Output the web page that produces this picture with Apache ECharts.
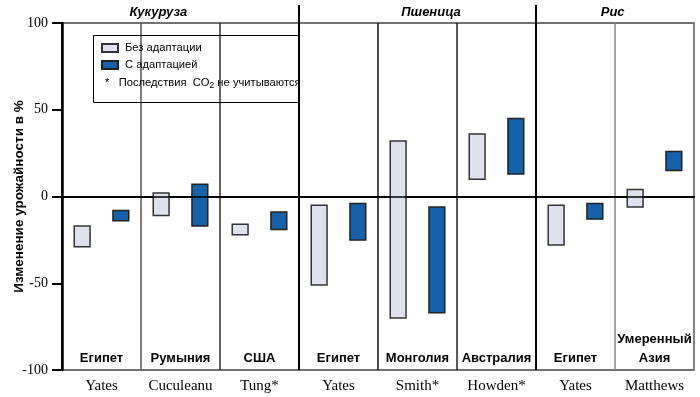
<!DOCTYPE html>
<html>
<head>
<meta charset="utf-8">
<script src="https://cdn.jsdelivr.net/npm/echarts@6/dist/echarts.min.js"></script>
<style>
  html, body { margin: 0; padding: 0; background: #fff; }
  #chart { width: 700px; height: 397px; }
</style>
</head>
<body>
<div id="chart"></div>
<script>
// authors under each column, country inside each column
const authors = ['Yates', 'Cuculeanu', 'Tung*', 'Yates', 'Smith*', 'Howden*', 'Yates', 'Matthews']
const countries = ['Египет', 'Румыния', 'США', 'Египет', 'Монголия', 'Австралия', 'Египет', 'Умеренный\nАзия']

// crop groups: name and how many columns each covers
const crops = ['Кукуруза', 'Пшеница', 'Рис']
const cropSpans = [3, 3, 2]

// range of yield change, %
const noAdaptLow = [-29, -11, -22, -51, -70, 10, -28, -6]
const noAdaptHigh = [-17, 2, -16, -5, 32, 36, -5, 4]
const adaptLow = [-14, -17, -19, -25, -67, 13, -13, 15]
const adaptHigh = [-8, 7, -9, -4, -6, 45, -4, 26]

const yTicks = [-100, -50, 0, 50, 100]

const SANS = '"Liberation Sans", Arial, sans-serif'
const SERIF = '"Liberation Serif", "DejaVu Serif", serif'

const chart = echarts.init(document.getElementById('chart'))

const toRows = (lo, hi) => lo.map((v, i) => [i, v, hi[i]])

const rangeBar = offset => (params, api) => {
  const x = api.value(0)
  const lo = api.coord([x, api.value(1)])
  const hi = api.coord([x, api.value(2)])
  const band = api.size([1, 0])[0]
  const w = band * 0.2
  return {
    type: 'rect',
    shape: { x: lo[0] + band * offset - w / 2, y: hi[1], width: w, height: lo[1] - hi[1] },
    style: api.style()
  }
}

chart.setOption({
  animation: false,
  grid: {
    left: 62, right: 6, top: 23, bottom: 27,
    show: true, borderColor: '#444', borderWidth: 1.5
  },
  legend: {
    orient: 'vertical',
    left: 101, top: 41, padding: 0,
    itemWidth: 16, itemHeight: 8, itemGap: 3,
    textStyle: { fontFamily: SANS, fontSize: 11.2, color: '#000', lineHeight: 14, padding: [0, 0, 0, 2] },
    data: [
      { name: 'Без адаптации', icon: 'rect' },
      { name: 'С адаптацией', icon: 'rect' }
    ]
  },
  xAxis: [
    {
      type: 'category',
      data: authors,
      axisLine: { lineStyle: { color: '#000', width: 2 } },
      axisTick: { show: false, interval: 0 },
      axisLabel: { interval: 0, fontFamily: SERIF, fontSize: 15, color: '#000', margin: 9 },
      splitLine: {
        show: true,
        interval: 0,
        lineStyle: {
          width: 1.5,
          color: ['#000', '#555', '#333', '#000', '#111', '#222', '#000', '#888', '#888']
        }
      }
    },
    {
      type: 'category',
      data: countries,
      position: 'bottom',
      axisLine: { show: false },
      axisTick: { show: false },
      axisLabel: {
        interval: 0, inside: true, margin: 2,
        fontFamily: SANS, fontSize: 13, fontWeight: 'bold', color: '#000', lineHeight: 19
      }
    }
  ],
  yAxis: {
    type: 'value',
    min: -100, max: 100, interval: 50,
    name: 'Изменение урожайности в %',
    nameLocation: 'middle', nameRotate: 90, nameGap: 36, nameMoveOverlap: false,
    nameTextStyle: { fontFamily: SANS, fontSize: 13.5, fontWeight: 'bold', color: '#000' },
    axisLine: { show: true, lineStyle: { color: '#000', width: 2.5 } },
    axisTick: { show: true, length: 10, lineStyle: { color: '#000', width: 2 } },
    axisLabel: {
      fontFamily: SERIF, fontSize: 14, color: '#000', margin: 14,
      formatter: v => (yTicks.includes(v) ? String(v) : '')
    },
    splitLine: { show: false }
  },
  series: [
    {
      name: 'Без адаптации',
      type: 'custom',
      renderItem: rangeBar(-0.245),
      encode: { x: 0, y: [1, 2] },
      itemStyle: { color: '#dfe1ef', borderColor: '#333', borderWidth: 1.5 },
      data: toRows(noAdaptLow, noAdaptHigh),
      markLine: {
        silent: true, symbol: 'none', label: { show: false },
        lineStyle: { color: '#000', width: 1.5, type: 'solid' },
        data: [{ yAxis: 0 }]
      },
      z: 3
    },
    {
      name: 'С адаптацией',
      type: 'custom',
      renderItem: rangeBar(0.245),
      encode: { x: 0, y: [1, 2] },
      itemStyle: { color: '#1562aa', borderColor: '#222', borderWidth: 1.5 },
      data: toRows(adaptLow, adaptHigh),
      z: 3
    }
  ]
})

// overlays: legend box, CO2 note, crop titles, group separators
const c0 = chart.convertToPixel({ xAxisIndex: 0 }, 0)
const band = chart.convertToPixel({ xAxisIndex: 0 }, 1) - c0
const left = c0 - band / 2
const yBot = chart.convertToPixel({ yAxisIndex: 0 }, -100)

// crop title positions in columns from the left edge
const titlePos = [1.22, 4.67, 6.97]

const graphics = [
  {
    type: 'rect', left: 91, top: 33, silent: true, z: 10,
    shape: { width: 205, height: 67 },
    style: { fill: 'none', stroke: '#000', lineWidth: 1 }
  },
  {
    type: 'text', left: 105, top: 77, silent: true, z: 10,
    style: {
      text: '{a|*   Последствия  CO}{s|2}{a| не учитываются}',
      rich: {
        a: { fontFamily: SANS, fontSize: 11.2, fill: '#000' },
        s: { fontFamily: SANS, fontSize: 8.5, fill: '#000', padding: [7, 0, 0, 0] }
      }
    }
  }
]

crops.forEach((name, i) => {
  graphics.push({
    type: 'text', silent: true,
    x: left + band * titlePos[i], y: 12,
    style: {
      text: name, align: 'center', verticalAlign: 'middle',
      fontFamily: SANS, fontSize: 13, fontWeight: 'bold', fontStyle: 'italic', fill: '#000'
    }
  })
})

let col = 0
cropSpans.slice(0, -1).forEach(span => {
  col += span
  const x = left + band * col
  graphics.push({
    type: 'line', silent: true, z: 5,
    shape: { x1: x, y1: 5, x2: x, y2: yBot },
    style: { stroke: '#000', lineWidth: 2 }
  })
})

chart.setOption({ graphic: graphics })
</script>
</body>
</html>
